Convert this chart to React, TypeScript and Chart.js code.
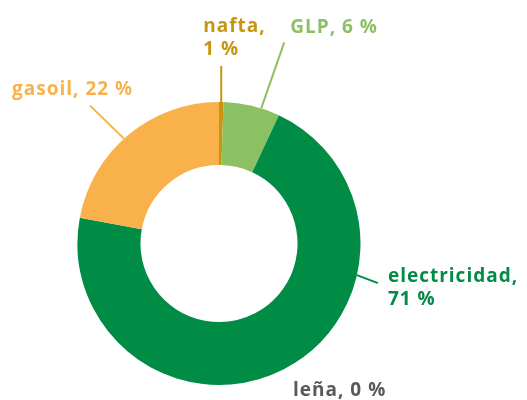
import React, { useEffect, useRef } from "react";
import { Chart, registerables } from "chart.js";

Chart.register(...registerables);

const categories = ["nafta", "GLP", "electricidad", "leña", "gasoil"];
const values = [0.5, 6.45, 70.95, 0, 22.1];
const percentLabels = ["1 %", "6 %", "71 %", "0 %", "22 %"];
const colors = ["#C8960E", "#8BC063", "#008C45", "#6D6E71", "#F9B24B"];
const textColors = ["#C8960E", "#8BC063", "#008C45", "#58595B", "#F9B24B"];

type LabelCfg = {
  frac: number;
  leader: [number, number] | null;
  text: [number, number];
  twoLines: boolean;
};
const labelCfg: LabelCfg[] = [
  { frac: 0.5, leader: [0, -36], text: [-18, -34], twoLines: true },
  { frac: 0.67, leader: [23, -66], text: [6, -9], twoLines: false },
  { frac: 0.305, leader: [21, 8], text: [10, -1], twoLines: true },
  { frac: 0.5, leader: null, text: [74, 152.5], twoLines: false },
  { frac: 0.47, leader: [-34, -33], text: [-78, -11], twoLines: false },
];

const FONT = "bold 19px 'Open Sans'";

const labelPlugin = {
  id: "leaderLabels",
  afterDraw(chart: any) {
    const ctx = chart.ctx;
    const meta = chart.getDatasetMeta(0);
    ctx.save();
    ctx.font = FONT;
    try {
      (ctx as any).letterSpacing = "1px";
    } catch (e) {}
    ctx.textBaseline = "alphabetic";
    ctx.textAlign = "left";
    meta.data.forEach((arc: any, i: number) => {
      const cfg = labelCfg[i];
      const { x, y, startAngle, endAngle, outerRadius } = arc.getProps(
        ["x", "y", "startAngle", "endAngle", "outerRadius"],
        true
      );
      let ax: number, ay: number;
      if (cfg.leader) {
        const a = startAngle + (endAngle - startAngle) * cfg.frac;
        const sx = x + Math.cos(a) * outerRadius;
        const sy = y + Math.sin(a) * outerRadius;
        ax = sx + cfg.leader[0];
        ay = sy + cfg.leader[1];
        ctx.strokeStyle = colors[i];
        ctx.lineWidth = 2;
        ctx.beginPath();
        ctx.moveTo(sx, sy);
        ctx.lineTo(ax, ay);
        ctx.stroke();
      } else {
        ax = x;
        ay = y;
      }
      ctx.fillStyle = textColors[i];
      const tx = ax + cfg.text[0];
      const ty = ay + cfg.text[1];
      if (cfg.twoLines) {
        ctx.fillText(categories[i] + ",", tx, ty);
        ctx.fillText(percentLabels[i], tx, ty + 23);
      } else {
        ctx.fillText(categories[i] + ", " + percentLabels[i], tx, ty);
      }
    });
    ctx.restore();
  },
};

export default function App() {
  const ref = useRef<HTMLCanvasElement>(null);
  useEffect(() => {
    if (!ref.current) return;
    const chart = new Chart(ref.current, {
      type: "doughnut",
      data: {
        labels: categories,
        datasets: [
          {
            data: values,
            backgroundColor: colors,
            borderWidth: 0,
          },
        ],
      },
      options: {
        responsive: false,
        animation: false,
        cutout: "55.5%",
        layout: { padding: { top: 102, bottom: 15, left: 77, right: 166 } },
        plugins: {
          legend: { display: false },
          tooltip: { enabled: false },
        },
      },
      plugins: [labelPlugin],
    });
    return () => chart.destroy();
  }, []);
  return (
    <div style={{ position: "fixed", left: 0, top: 0, width: 527, height: 400, background: "#fff" }}>
      <canvas ref={ref} width={527} height={400} style={{ width: 527, height: 400 }} />
    </div>
  );
}
